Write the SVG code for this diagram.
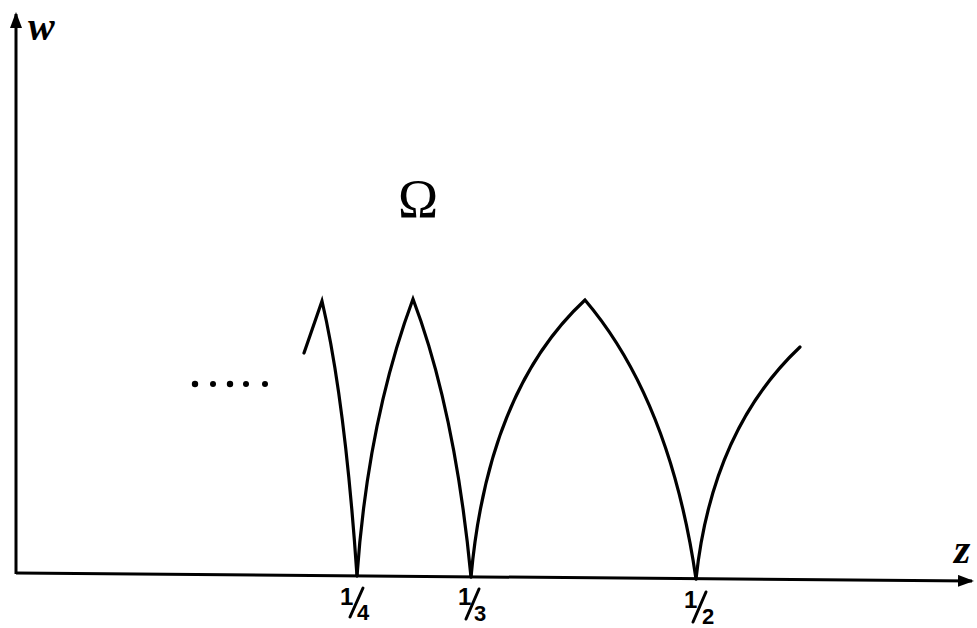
<svg xmlns="http://www.w3.org/2000/svg" width="977" height="628" viewBox="0 0 977 628">
<style>
.ax{stroke:#000;stroke-width:3;fill:none}
.cv{stroke:#000;stroke-width:3.2;fill:none;stroke-linecap:round;stroke-linejoin:miter}
.lb{font-family:"Liberation Serif",serif;fill:#000}
.fr{font-family:"Liberation Sans",sans-serif;font-weight:bold;fill:#000}
.sl{stroke:#000;stroke-width:3;stroke-linecap:round}
</style>
<defs>
<marker id="ah" viewBox="0 0 16 12" refX="14" refY="6" markerWidth="16" markerHeight="12" markerUnits="userSpaceOnUse" orient="auto">
<path d="M0,0 L16,6 L0,12 Z" fill="#000"/>
</marker>
</defs>
<g id="connectors">
<line class="ax" x1="16" y1="574" x2="16" y2="14" marker-end="url(#ah)"/>
<line class="ax" x1="16" y1="573" x2="972" y2="581" marker-end="url(#ah)"/>
</g>
<g id="curve">
<path class="cv" d="M304,353 L322,301 Q345,400 357,576"/>
<path class="cv" d="M357,576 Q368,420 413,299 Q455,410 471,577"/>
<path class="cv" d="M471,577 Q488,390 585,300 Q670,400 696,579"/>
<path class="cv" d="M696,579 Q712,430 800,347"/>
</g>
<g id="dots" fill="#000">
<circle cx="195" cy="384" r="3.2"/>
<circle cx="213" cy="384" r="3"/>
<circle cx="230" cy="384" r="3.2"/>
<circle cx="246" cy="384" r="3"/>
<circle cx="265" cy="384" r="3"/>
</g>
<g id="labels">
<text class="lb" x="28" y="40" font-size="40" font-style="italic" font-weight="bold">w</text>
<text class="lb" x="954" y="563" font-size="42" font-style="italic" font-weight="bold">z</text>
<text class="lb" x="418" y="217" font-size="54" text-anchor="middle">Ω</text>
</g>
<g id="frac-quarter">
<text class="fr" x="340" y="605" font-size="24">1</text>
<line class="sl" x1="350" y1="617" x2="363" y2="588"/>
<text class="fr" x="357" y="620" font-size="22">4</text>
</g>
<g id="frac-third">
<text class="fr" x="458" y="605" font-size="24">1</text>
<line class="sl" x1="466" y1="619" x2="479" y2="589"/>
<text class="fr" x="474" y="621" font-size="22">3</text>
</g>
<g id="frac-half">
<text class="fr" x="684" y="608" font-size="24">1</text>
<line class="sl" x1="693" y1="622" x2="706" y2="592"/>
<text class="fr" x="702" y="624" font-size="22">2</text>
</g>
</svg>
